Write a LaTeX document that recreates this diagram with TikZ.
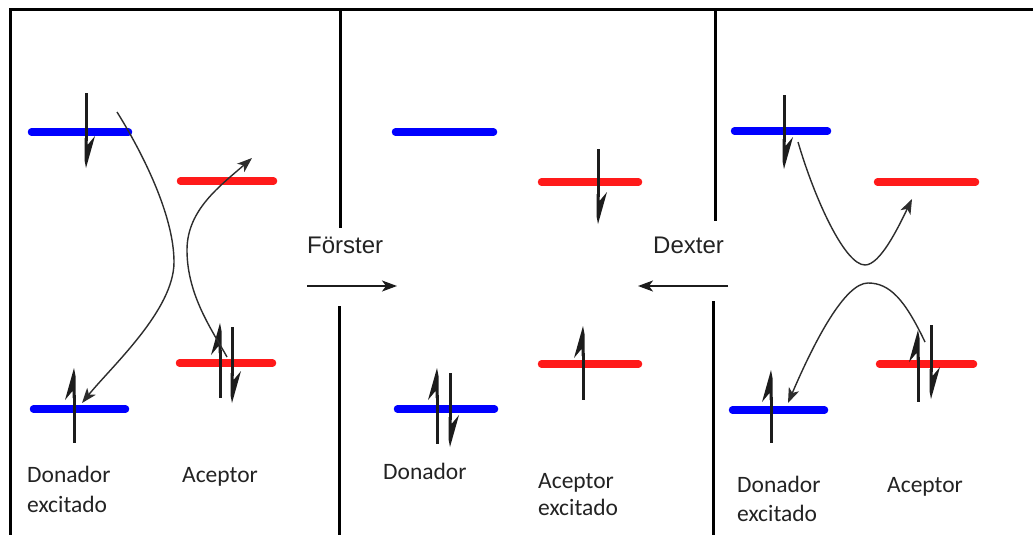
\documentclass[tikz,border=0pt]{standalone}
\usepackage{fontspec}
\setmainfont{Carlito}
\newfontfamily\arialf{Liberation Sans}
\usetikzlibrary{arrows.meta}
\definecolor{lvblue}{RGB}{0,0,255}
\definecolor{lvred}{RGB}{255,26,26}
\definecolor{ink}{RGB}{28,28,28}
\definecolor{curvecol}{RGB}{45,45,45}
\definecolor{txt}{RGB}{35,35,35}
\tikzset{
 frame/.style={line width=3pt, black},
 lvb/.style={line width=7.5pt, line cap=round, lvblue},
 lvr/.style={line width=7.5pt, line cap=round, lvred},
 transfer/.style={curvecol, line width=1.4pt, -{Stealth[length=15pt,width=11pt,inset=4pt]}},
 mech/.style={ink, line width=1.5pt, -{Stealth[length=15pt,width=11pt,inset=4pt]}},
 lab/.style={anchor=base west, inner sep=0pt, font=\fontsize{23.5}{30}\selectfont, text=txt},
 mechlab/.style={anchor=base west, inner sep=0pt, font=\arialf\fontsize{24}{28}\selectfont, text=txt},
}
% spin up: x, tip y, bottom y
\newcommand{\spinU}[3]{%
 \draw[ink,line width=3pt] (#1,#2+27) -- (#1,#3);
 \fill[ink] (#1,#2) -- (#1-9,#2+32) -- (#1-1.5,#2+23) -- (#1-1.5,#2+30) -- (#1+1.5,#2+30) -- (#1+1.5,#2+8) -- cycle;
}
% spin down: x, top y, tip y
\newcommand{\spinD}[3]{%
 \draw[ink,line width=3pt] (#1,#2) -- (#1,#3-27);
 \fill[ink] (#1,#3) -- (#1+9,#3-32) -- (#1+1.5,#3-23) -- (#1+1.5,#3-30) -- (#1-1.5,#3-30) -- (#1-1.5,#3-8) -- cycle;
}
\begin{document}
\begin{tikzpicture}[x=1pt,y=-1pt]
\useasboundingbox[fill=white] (0,0) rectangle (1033,535);
% frame
\draw[frame] (10,535) -- (10,10) -- (1033,10);
\draw[frame] (340,10) -- (340,228);
\draw[frame] (339,306) -- (339,535);
\draw[frame] (715,10) -- (715,221);
\draw[frame] (713,301) -- (713,535);

% ---- left panel ----
\draw[lvb] (31.5,132) -- (128.5,132);
\draw[lvr] (180.5,181) -- (273.5,181);
\draw[lvr] (179.5,363) -- (272.5,363);
\draw[lvb] (33.5,409) -- (125.5,409);
\spinD{86}{93}{168}
\spinU{74}{368}{443}
\spinU{220}{323}{398}
\spinD{232}{327}{403}
\draw[transfer] (117,112) .. controls (142,152) and (174,215) .. (174,262) .. controls (174,310) and (112,366) .. (82,403);
\draw[transfer] (227,357) .. controls (212,330) and (187,295) .. (187,250) .. controls (187,210) and (220,186) .. (252,158);

% ---- middle ----
\draw[lvb] (395.5,132) -- (493.5,132);
\draw[lvr] (541.5,182) -- (638.5,182);
\draw[lvr] (541.5,364) -- (638.5,364);
\draw[lvb] (397.5,409) -- (494.5,409);
\spinD{598}{149}{224}
\spinU{583}{326}{400}
\spinU{437}{368}{444}
\spinD{450}{373}{447}

% ---- right panel ----
\draw[lvb] (734.5,131) -- (827.5,131);
\draw[lvr] (877.5,182) -- (975.5,182);
\draw[lvr] (879.5,364) -- (973.5,364);
\draw[lvb] (732.5,410) -- (824.5,410);
\spinD{784}{95}{169}
\spinU{771}{370}{443}
\spinU{918}{330}{402}
\spinD{931}{325}{399}
\draw[transfer] (798,142) .. controls (815,200) and (845,265) .. (865,265) .. controls (880,265) and (898,228) .. (912,199);
\draw[transfer] (925,342) .. controls (905,300) and (890,283) .. (868,283) .. controls (845,283) and (815,340) .. (788,403);

% ---- mechanism labels and arrows ----
\node[mechlab] (forster) at (307,253) {Förster};
\node[mechlab] (dexter) at (653,253) {Dexter};
\coordinate (fs) at (307,286);
\coordinate (fe) at (397,286);
\coordinate (ds) at (728,286);
\coordinate (de) at (638,286);
\draw[mech] (fs) -- (fe);
\draw[mech] (ds) -- (de);

% ---- bottom labels ----
\node[lab] (l1a) at (27,482) {Donador};
\node[lab] (l1b) at (27,512) {excitado};
\node[lab] (l2) at (182,482) {Aceptor};
\node[lab] (m1) at (383,479) {Donador};
\node[lab] (m2a) at (538,488) {Aceptor};
\node[lab] (m2b) at (538,515) {excitado};
\node[lab] (r1a) at (737,492) {Donador};
\node[lab] (r1b) at (737,521) {excitado};
\node[lab] (r2) at (887,492) {Aceptor};
\end{tikzpicture}
\end{document}
